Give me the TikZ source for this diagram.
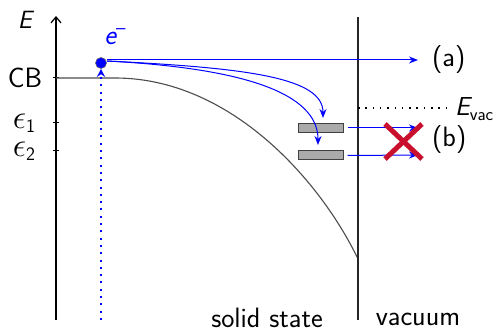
\documentclass[tikz,border=0pt]{standalone}
\usepackage{graphicx}
\usetikzlibrary{arrows.meta}
\definecolor{xred}{RGB}{200,16,46}
\definecolor{boxgray}{RGB}{170,170,170}
\newcommand{\epslab}[1]{\scalebox{1.35}{$\epsilon$}\raisebox{-4pt}{\fontsize{19}{20}\selectfont #1}}
\begin{document}
\begin{tikzpicture}[x=1pt,y=-1pt,
  lbl/.style={font=\fontsize{28}{32}\selectfont\sffamily, inner sep=0pt},
  bluearrow/.style={blue, line width=1pt, -{Stealth[length=9pt,width=7pt]}},
  levelbox/.style={draw=black!75, fill=boxgray, line width=1pt, minimum width=45pt, minimum height=9pt, inner sep=0pt},
  tickmark/.style={line width=1pt}]
\useasboundingbox (0,0) rectangle (501,331);
% axis
\coordinate (axb) at (56,320);
\coordinate (axt) at (56,16);
\draw[line width=1.2pt, -{Straight Barb[length=6pt,width=10pt]}] (axb) -- (axt);
\node[lbl, font=\fontsize{25}{28}\selectfont\sffamily] (E) at (25,20) {\itshape E};
% ticks
\foreach \yy/\nm in {78/cbt,123/e1t,151/e2t}{
  \coordinate (\nm) at (56,\yy);
  \draw[tickmark] ([xshift=-3pt]\nm) -- ([xshift=3pt]\nm);
}
\node[lbl] (CB) at (25,78) {CB};
\node[lbl] (eps1) at (24,123) {\epslab{1}};
\node[lbl] (eps2) at (24,151) {\epslab{2}};
% band curve
\coordinate (bandA) at (56,78);
\coordinate (bandB) at (115,78);
\coordinate (bandC) at (358,259);
\draw[black!70, line width=1.1pt] (bandA) -- (bandB) .. controls (230,78) and (320,180) .. (bandC);
% surface
\coordinate (surft) at (358,17);
\coordinate (surfb) at (358,320);
\draw[black!85, line width=1.1pt] (surft) -- (surfb);
% vacuum level
\coordinate (evA) at (358,108);
\coordinate (evB) at (448,108);
\draw[line width=1.5pt, dash pattern=on 1.5pt off 5.8pt] (evA) -- (evB);
\node[lbl, anchor=west, font=\fontsize{26}{30}\selectfont\sffamily] (Evac) at (455,109) {\itshape E\raisebox{-5pt}{\fontsize{18}{20}\selectfont\upshape vac}};
% electron
\node[circle, fill=blue, draw=black!60, line width=0.6pt, minimum size=11pt, inner sep=0pt] (el) at (101,63) {};
\node[lbl, text=blue] (elab) at (115,37) {\itshape e\raisebox{10pt}{\fontsize{20}{22}\selectfont\upshape --}};
% excitation
\coordinate (exb) at (101,320);
\draw[blue, line width=2pt, dash pattern=on 2pt off 5.3pt, -{Stealth[length=8pt,width=8pt]}] (exb) -- (el.south);
% path (a)
\coordinate (aend) at (418,60);
\draw[bluearrow] (el.east |- aend) -- (aend);
\node[lbl, anchor=west] (alab) at (432,60) {(a)};
% levels
\node[levelbox] (lev1) at (320.5,128) {};
\node[levelbox] (lev2) at (320.5,155.5) {};
% curved arrows
\coordinate (c1) at (323,118);
\coordinate (c2) at (318,145);
\draw[bluearrow] ([yshift=2pt]el.east) .. controls (250,68) and (323,78) .. (c1);
\draw[bluearrow] ([yshift=2pt]el.east) .. controls (240,68) and (318,92) .. (c2);
% escape attempts (b)
\coordinate (b1) at (418,128);
\coordinate (b2) at (418,155);
\draw[bluearrow] ([xshift=4pt]lev1.east) -- (b1);
\draw[bluearrow] ([xshift=4pt]lev2.east) -- (b2);
\coordinate (x1) at (385,124);
\coordinate (x2) at (422,159);
\coordinate (x3) at (385,159);
\coordinate (x4) at (422,124);
\draw[xred, line width=5pt] (x1) -- (x2) (x3) -- (x4);
\node[lbl, anchor=west] (blab) at (432,140) {(b)};
% region labels
\node[lbl, anchor=base] (solid) at (267,327) {solid state};
\node[lbl, anchor=base] (vac) at (418,325) {vacuum};
\end{tikzpicture}
\end{document}
